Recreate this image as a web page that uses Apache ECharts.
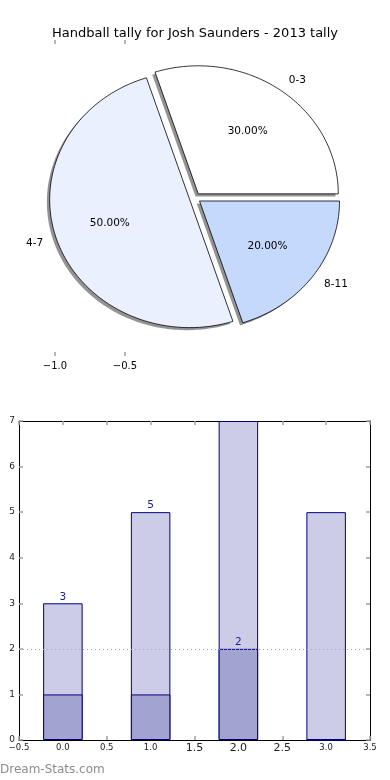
<!DOCTYPE html>
<html><head><meta charset="utf-8">
<script src="https://cdn.jsdelivr.net/npm/echarts@6/dist/echarts.min.js"></script>
<style>html,body{margin:0;padding:0;background:#fff}#c{width:390px;height:780px}</style>
</head><body><div id="c"></div>
<script>
const chartTitle = 'Handball tally for Josh Saunders - 2013 tally';
const pieCategories = ['0-3', '4-7', '8-11'];
const pieValues = [3, 5, 2];
const pieAxisTicks = [-1.0, -0.5];
const barPositions = [0, 1, 2, 3];
const barTotals = [3, 5, 7, 5];
const barLower = [1, 1, 2, 0];
const totalLabels = ['3', '5', '', ''];
const lowerLabels = ['', '', '2', ''];
const referenceLine = 2;

const pieColors = ['#ffffff', '#eaf0fd', '#c5d9fd'];
const explode = 0.04;
const FONT = 'DejaVu Sans';

const total = pieValues.reduce((a, b) => a + b, 0);
function wedgeInfo(i) {
  let cum = 0;
  for (let k = 0; k < i; k++) cum += pieValues[k];
  const t1 = cum / total * 2 * Math.PI;
  const t2 = (cum + pieValues[i]) / total * 2 * Math.PI;
  return { t1, t2, mid: (t1 + t2) / 2 };
}
function wedgePoints(api, i, dx, dy) {
  const w = wedgeInfo(i);
  const ox = explode * Math.cos(w.mid) + dx, oy = explode * Math.sin(w.mid) + dy;
  const pts = [api.coord([ox, oy])];
  const n = Math.max(8, Math.ceil((w.t2 - w.t1) / (Math.PI / 180)));
  for (let j = 0; j <= n; j++) {
    const t = w.t1 + (w.t2 - w.t1) * j / n;
    pts.push(api.coord([ox + Math.cos(t), oy + Math.sin(t)]));
  }
  return pts;
}

const chart = echarts.init(document.getElementById('c'), null, { renderer: 'canvas' });
const bigLabels = { '1.5': 1, '2.0': 1, '2.5': 1 };
const tickStyle = () => ({ show: true, inside: true, length: 4, lineStyle: { color: '#a0a0a0', width: 1.5 } });
const hiddenLine = { show: true, onZero: false, lineStyle: { color: '#000', opacity: 0 } };

chart.setOption({
  animation: false,
  backgroundColor: '#fff',
  title: {
    text: chartTitle, left: 'center', top: 22,
    textStyle: { fontFamily: FONT, fontSize: 13, fontWeight: 'normal', color: '#000' }
  },
  graphic: [{
    type: 'text', left: 0, top: 764,
    style: { text: 'Dream-Stats.com', fontFamily: FONT, fontSize: 12, fontWeight: 'normal', fill: '#8c8c8c' }
  }],
  grid: [
    { left: 20, top: 40, width: 350, height: 316 },
    { left: 19, top: 421, width: 351, height: 319 }
  ],
  xAxis: [
    { gridIndex: 0, type: 'value', min: -1.25, max: 1.25, position: 'bottom',
      axisLine: hiddenLine, splitLine: { show: false },
      axisTick: Object.assign(tickStyle(), { customValues: pieAxisTicks }),
      axisLabel: { customValues: pieAxisTicks, margin: 5, fontFamily: FONT, fontSize: 10, color: '#000',
        formatter: v => (v < 0 ? '\u2212' : '') + Math.abs(v).toFixed(1) } },
    { gridIndex: 0, type: 'value', min: -1.25, max: 1.25, position: 'top',
      axisLine: hiddenLine, splitLine: { show: false },
      axisTick: Object.assign(tickStyle(), { customValues: pieAxisTicks }),
      axisLabel: { show: false, customValues: pieAxisTicks } },
    { gridIndex: 1, type: 'value', min: -0.5, max: 3.5, interval: 0.5, position: 'bottom',
      axisLine: { show: true, onZero: false, lineStyle: { color: '#000', width: 1 } },
      splitLine: { show: false }, axisTick: tickStyle(),
      axisLabel: { margin: 3, color: '#222', fontFamily: FONT,
        formatter: v => { const s = (v < 0 ? '\u2212' : '') + Math.abs(v).toFixed(1); return bigLabels[s] ? '{b|' + s + '}' : '{s|' + s + '}'; },
        rich: { s: { fontSize: 8.5, fontFamily: FONT, color: '#222' }, b: { fontSize: 11, fontFamily: FONT, color: '#222' } } } },
    { gridIndex: 1, type: 'value', min: -0.5, max: 3.5, interval: 0.5, position: 'top',
      axisLine: { show: true, onZero: false, lineStyle: { color: '#000', width: 1 } },
      splitLine: { show: false }, axisTick: tickStyle(), axisLabel: { show: false } }
  ],
  yAxis: [
    { gridIndex: 0, type: 'value', min: -1.234, max: 1.234, show: false },
    { gridIndex: 1, type: 'value', min: 0, max: 7, interval: 1, position: 'left',
      axisLine: { show: true, onZero: false, lineStyle: { color: '#000', width: 1 } },
      splitLine: { show: false }, axisTick: tickStyle(),
      axisLabel: { margin: 4, fontFamily: FONT, fontSize: 9, color: '#222' } },
    { gridIndex: 1, type: 'value', min: 0, max: 7, interval: 1, position: 'right',
      axisLine: { show: true, onZero: false, lineStyle: { color: '#000', width: 1 } },
      splitLine: { show: false }, axisTick: tickStyle(), axisLabel: { show: false } }
  ],
  series: [
    { type: 'custom', xAxisIndex: 0, yAxisIndex: 0, z: 1, silent: true,
      data: pieValues.map((v, i) => [i, v]), encode: { x: -1, y: -1 },
      renderItem: (params, api) => ({
        type: 'polygon', shape: { points: wedgePoints(api, params.dataIndex, -0.02, -0.02) },
        style: { fill: 'rgba(40,40,40,0.5)', stroke: null }
      }) },
    { type: 'custom', xAxisIndex: 0, yAxisIndex: 0, z: 2, silent: true,
      data: pieValues.map((v, i) => [i, v]), encode: { x: -1, y: -1 },
      renderItem: (params, api) => {
        const i = params.dataIndex;
        const w = wedgeInfo(i);
        const ox = explode * Math.cos(w.mid), oy = explode * Math.sin(w.mid);
        const lp = api.coord([ox + 1.1 * Math.cos(w.mid), oy + 1.1 * Math.sin(w.mid)]);
        const pp = api.coord([ox + 0.6 * Math.cos(w.mid), oy + 0.6 * Math.sin(w.mid)]);
        const pct = (pieValues[i] / total * 100).toFixed(2) + '%';
        return { type: 'group', children: [
          { type: 'polygon', shape: { points: wedgePoints(api, i, 0, 0) },
            style: { fill: pieColors[i], stroke: '#000', lineWidth: 0.8 } },
          { type: 'text', x: lp[0], y: lp[1], style: { text: pieCategories[i], fontFamily: FONT, fontSize: 10.5, fill: '#000',
            align: Math.cos(w.mid) >= 0 ? 'left' : 'right', verticalAlign: 'middle' } },
          { type: 'text', x: pp[0], y: pp[1], style: { text: pct, fontFamily: FONT, fontSize: 10.5, fill: '#000',
            align: 'center', verticalAlign: 'middle' } }
        ] };
      } },
    { type: 'bar', xAxisIndex: 2, yAxisIndex: 1, barWidth: 39.5, barGap: '-100%',
      data: barPositions.map((x, i) => ({ value: [x, barTotals[i]],
        label: { show: totalLabels[i] !== '', formatter: totalLabels[i] } })),
      itemStyle: { color: '#ccccE6', borderColor: '#000080', borderWidth: 1 },
      label: { position: 'top', distance: 1, fontFamily: FONT, fontSize: 10.5, color: '#1c1c8a' },
      markLine: { silent: true, symbol: 'none', label: { show: false },
        lineStyle: { type: [1, 3], color: '#a8a8a8', width: 1 },
        data: [{ yAxis: referenceLine }] } },
    { type: 'bar', xAxisIndex: 2, yAxisIndex: 1, barWidth: 39.5, barGap: '-100%',
      data: barPositions.map((x, i) => ({ value: [x, barLower[i]],
        label: { show: lowerLabels[i] !== '', formatter: lowerLabels[i] } })),
      itemStyle: { color: '#a3a3d2', borderColor: '#000080', borderWidth: 1 },
      label: { position: 'top', distance: 1, fontFamily: FONT, fontSize: 10.5, color: '#1c1c8a' } }
  ]
});
</script></body></html>
